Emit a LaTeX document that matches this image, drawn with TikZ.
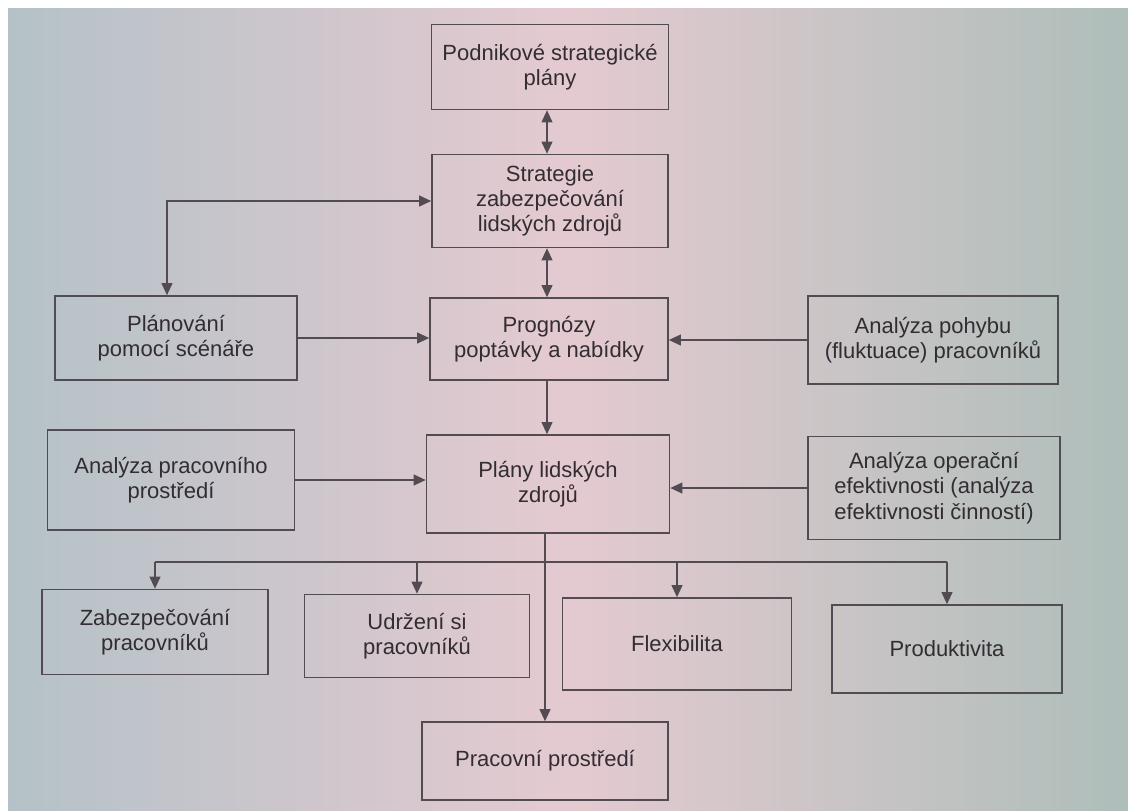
\documentclass[tikz,border=0pt]{standalone}
\usepackage{fontspec}
\setmainfont{Liberation Sans}
\usetikzlibrary{arrows.meta}
\definecolor{bgL}{RGB}{180,194,200}
\definecolor{bgM}{RGB}{228,202,208}
\definecolor{bgR}{RGB}{174,190,186}
\definecolor{ln}{RGB}{82,76,82}
\definecolor{tx}{RGB}{50,45,50}
\tikzset{
  box/.style={draw=ln, line width=0.8pt, align=center, text=tx, inner sep=0pt,
    font=\fontsize{11}{12.6}\selectfont},
  conn/.style={draw=ln, line width=0.75pt},
  tip/.style={-{Triangle[length=6pt,width=5.4pt]}},
  tips/.style={{Triangle[length=6pt,width=5.4pt]}-{Triangle[length=6pt,width=5.4pt]}}
}
\begin{document}
\begin{tikzpicture}[x=0.5pt,y=-0.5pt]
\useasboundingbox (0,0) rectangle (1128,810);
\fill[white] (0,0) rectangle (1128,810);
\shade[left color=bgL, right color=bgR, middle color=bgM] (8,8) rectangle (1128,810);

\node[box, minimum width=118.5pt, minimum height=42.5pt] (b1) at (550,67) {Podnikové strategické\\plány};
\node[box, minimum width=118pt, minimum height=46.5pt] (b2) at (550,201) {Strategie\\zabezpečování\\lidských zdrojů};
\node[box, minimum width=121pt, minimum height=42pt] (b3) at (176,338) {Plánování\\pomocí scénáře};
\node[box, minimum width=119pt, minimum height=41pt] (b4) at (549,339) {Prognózy\\poptávky a nabídky};
\node[box, minimum width=125pt, minimum height=44pt] (b5) at (933,340) {Analýza pohybu\\(fluktuace) pracovníků};
\node[box, minimum width=123.5pt, minimum height=50pt] (b6) at (171,480) {Analýza pracovního\\prostředí};
\node[box, minimum width=121.5pt, minimum height=49pt] (b7) at (548,484) {Plány lidských\\zdrojů};
\node[box, minimum width=126pt, minimum height=51.5pt] (b8) at (934,488) {Analýza operační\\efektivnosti (analýza\\efektivnosti činností)};
\node[box, minimum width=113pt, minimum height=42.5pt] (b9) at (155,632) {Zabezpečování\\pracovníků};
\node[box, minimum width=112.5pt, minimum height=41.5pt] (b10) at (417,636) {Udržení si\\pracovníků};
\node[box, minimum width=114.5pt, minimum height=46pt] (b11) at (677,644) {Flexibilita};
\node[box, minimum width=115pt, minimum height=44pt] (b12) at (947,649) {Produktivita};
\node[box, minimum width=123pt, minimum height=39pt] (b13) at (545,761) {Pracovní prostředí};

\coordinate (cx) at (547,0);
\coordinate (cx2) at (545,0);
\coordinate (lx) at (167,0);
\coordinate (bus) at (0,562);

\draw[conn, tips] (b1.south -| cx) -- (b2.north -| cx);
\draw[conn, tips] (b2.south -| cx) -- (b4.north -| cx);
\draw[conn, tips] (b2.west) -| (lx |- b3.north);
\draw[conn, tip] (b3.east) -- (b3.east -| b4.west);
\draw[conn, tip] (b5.west) -- (b5.west -| b4.east);
\draw[conn, tip] (b4.south -| cx) -- (b7.north -| cx);
\draw[conn, tip] (b6.east) -- (b6.east -| b7.west);
\draw[conn, tip] (b8.west) -- (b8.west -| b7.east);
\draw[conn, tip] (b7.south -| cx2) -- (b13.north -| cx2);
\draw[conn] (b9.north |- bus) -- (b12.north |- bus);
\draw[conn, tip] (b9.north |- bus) -- (b9.north);
\draw[conn, tip] (b10.north |- bus) -- (b10.north);
\draw[conn, tip] (b11.north |- bus) -- (b11.north);
\draw[conn, tip] (b12.north |- bus) -- (b12.north);
\end{tikzpicture}
\end{document}
